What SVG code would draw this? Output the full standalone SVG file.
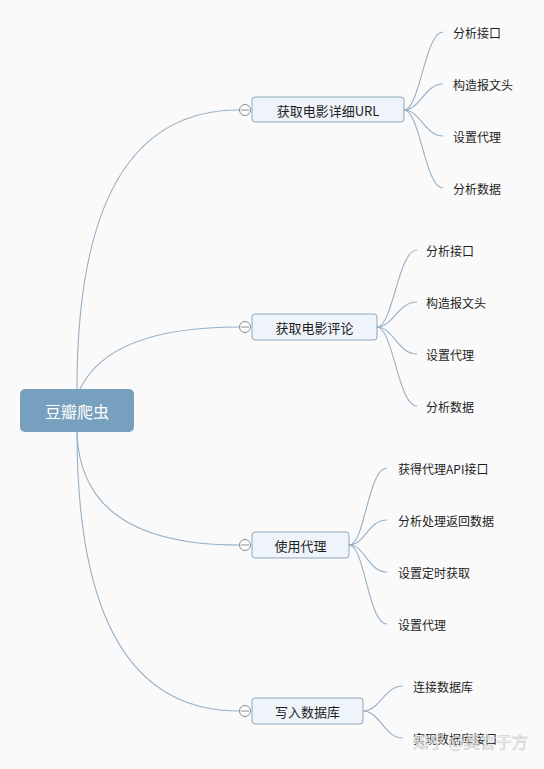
<svg xmlns="http://www.w3.org/2000/svg" width="544" height="769" viewBox="0 0 544 769">
<style>
.bg{fill:#fafafa}
.con{fill:none;stroke:#97b0c5;stroke-width:1.1}
.box{fill:#eef4f9;stroke:#8ea7bb;stroke-width:1}
.root{fill:#77a0bf}
.t{font-family:"Microsoft YaHei","Noto Sans CJK SC",sans-serif;font-size:13px;fill:#1e1e1e;dominant-baseline:central}
.c{font-family:"Microsoft YaHei","Noto Sans CJK SC",sans-serif;font-size:12px;fill:#1e1e1e;dominant-baseline:central}
.rt{font-family:"Microsoft YaHei","Noto Sans CJK SC",sans-serif;font-size:16px;fill:#ffffff;dominant-baseline:central;text-anchor:middle}
.col{fill:#ffffff;stroke:#8a8a8a;stroke-width:1}
.wm{font-family:"Noto Sans CJK SC",sans-serif;font-size:16px;fill:#ffffff;fill-opacity:0.6;stroke:#c8c8c8;stroke-width:0.6}
</style>
<rect class="bg" x="0" y="0" width="544" height="769"/>
<g id="connectors">
<path class="con" d="M77,389 Q77,110 239,110"/>
<path class="con" d="M80,389 Q110,327 239,327"/>
<path class="con" d="M77,432 Q80,545 239,545"/>
<path class="con" d="M77,432 Q77,711 239,711"/>
<path class="con" d="M404,110 C420,110 425,32 443,32"/>
<path class="con" d="M404,110 C420,110 425,84 443,84"/>
<path class="con" d="M404,110 C420,110 425,136 443,136"/>
<path class="con" d="M404,110 C420,110 425,188 443,188"/>
<path class="con" d="M377,327 C393,327 398,250 417,250"/>
<path class="con" d="M377,327 C393,327 398,302 417,302"/>
<path class="con" d="M377,327 C393,327 398,354 417,354"/>
<path class="con" d="M377,327 C393,327 398,406 417,406"/>
<path class="con" d="M349,545 C365,545 368,468 387,468"/>
<path class="con" d="M349,545 C365,545 368,520 387,520"/>
<path class="con" d="M349,545 C365,545 368,572 387,572"/>
<path class="con" d="M349,545 C365,545 368,624 387,624"/>
<path class="con" d="M363,711 C380,711 384,686 403,686"/>
<path class="con" d="M363,711 C380,711 384,738 403,738"/>
</g>
<g id="root">
<rect class="root" x="20" y="389" width="114" height="43" rx="5"/>
<text class="rt" x="77" y="411">豆瓣爬虫</text>
</g>
<g id="n1">
<rect class="box" x="252" y="97" width="152" height="25" rx="3"/>
<text class="t" x="328" y="110" text-anchor="middle">获取电影详细URL</text>
<circle class="col" cx="245" cy="110" r="5.5"/><line x1="241" y1="110" x2="249" y2="110" stroke="#8a8a8a"/>
</g>
<g id="n1a"><text class="c" x="453" y="32">分析接口</text></g>
<g id="n1b"><text class="c" x="453" y="84">构造报文头</text></g>
<g id="n1c"><text class="c" x="453" y="136">设置代理</text></g>
<g id="n1d"><text class="c" x="453" y="188">分析数据</text></g>
<g id="n2">
<rect class="box" x="252" y="314" width="125" height="26" rx="3"/>
<text class="t" x="314.5" y="327" text-anchor="middle">获取电影评论</text>
<circle class="col" cx="245" cy="327" r="5.5"/><line x1="241" y1="327" x2="249" y2="327" stroke="#8a8a8a"/>
</g>
<g id="n2a"><text class="c" x="426" y="250">分析接口</text></g>
<g id="n2b"><text class="c" x="426" y="302">构造报文头</text></g>
<g id="n2c"><text class="c" x="426" y="354">设置代理</text></g>
<g id="n2d"><text class="c" x="426" y="406">分析数据</text></g>
<g id="n3">
<rect class="box" x="252" y="532" width="97" height="26" rx="3"/>
<text class="t" x="300.5" y="545" text-anchor="middle">使用代理</text>
<circle class="col" cx="245" cy="545" r="5.5"/><line x1="241" y1="545" x2="249" y2="545" stroke="#8a8a8a"/>
</g>
<g id="n3a"><text class="c" x="398" y="468">获得代理API接口</text></g>
<g id="n3b"><text class="c" x="398" y="520">分析处理返回数据</text></g>
<g id="n3c"><text class="c" x="398" y="572">设置定时获取</text></g>
<g id="n3d"><text class="c" x="398" y="624">设置代理</text></g>
<g id="n4">
<rect class="box" x="252" y="698" width="111" height="26" rx="3"/>
<text class="t" x="307.5" y="711" text-anchor="middle">写入数据库</text>
<circle class="col" cx="245" cy="711" r="5.5"/><line x1="241" y1="711" x2="249" y2="711" stroke="#8a8a8a"/>
</g>
<g id="n4a"><text class="c" x="413" y="686">连接数据库</text></g>
<g id="n4b"><text class="c" x="413" y="738">实现数据库接口</text></g>
<text class="wm" x="413" y="748">知乎 @莫言于方</text>
</svg>
